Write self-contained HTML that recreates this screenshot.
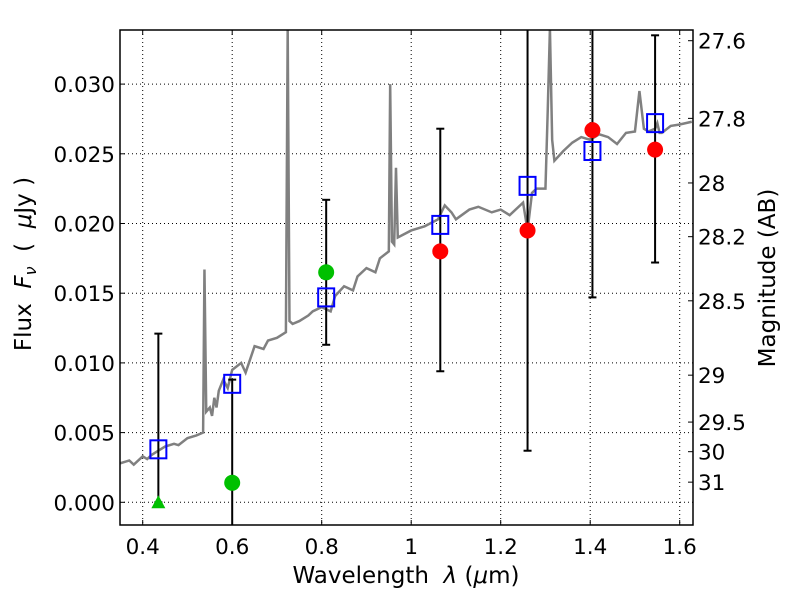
<!DOCTYPE html>
<html><head><meta charset="utf-8"><style>
body{margin:0;background:#fff;}
svg text{font-family:"DejaVu Sans","Liberation Sans",sans-serif;}
</style></head><body>
<svg id="c" width="800" height="600" xmlns="http://www.w3.org/2000/svg"></svg>
<script>
const xTicks=[0.4,0.6,0.8,1.0,1.2,1.4,1.6];
const xTickLabels=["0.4","0.6","0.8","1","1.2","1.4","1.6"];
const yTicks=[0,0.005,0.01,0.015,0.02,0.025,0.03];
const yTickLabels=["0.000","0.005","0.010","0.015","0.020","0.025","0.030"];
const magTicks=[27.6,27.8,28,28.2,28.5,29,29.5,30,31];
const magTickLabels=["27.6","27.8","28","28.2","28.5","29","29.5","30","31"];
const specWave=[0.35,0.37,0.38,0.40,0.41,0.42,0.43,0.45,0.47,0.48,0.50,0.52,0.535,0.538,0.542,0.55,0.555,0.56,0.565,0.57,0.58,0.59,0.60,0.62,0.63,0.65,0.67,0.68,0.70,0.72,0.724,0.728,0.735,0.75,0.77,0.78,0.80,0.82,0.83,0.85,0.87,0.88,0.90,0.92,0.93,0.95,0.953,0.957,0.962,0.966,0.97,1.0,1.03,1.06,1.075,1.09,1.1,1.13,1.15,1.18,1.2,1.22,1.25,1.26,1.27,1.28,1.3,1.305,1.31,1.315,1.32,1.34,1.36,1.38,1.40,1.42,1.44,1.46,1.48,1.50,1.51,1.52,1.53,1.545,1.55,1.555,1.56,1.58,1.60,1.627];
const specFlux=[0.0028,0.0030,0.0027,0.0033,0.0031,0.0034,0.0036,0.0040,0.0042,0.0041,0.0046,0.0048,0.0050,0.0167,0.0065,0.0068,0.0062,0.0075,0.0068,0.0080,0.0088,0.0082,0.0095,0.0100,0.0093,0.0112,0.0110,0.0116,0.0118,0.0122,0.034,0.0130,0.0128,0.0130,0.0134,0.0137,0.0140,0.0137,0.0148,0.0155,0.0152,0.0162,0.0168,0.0165,0.0175,0.0180,0.0300,0.0187,0.0185,0.0240,0.0190,0.0195,0.0198,0.0203,0.0213,0.0208,0.0203,0.0210,0.0212,0.0208,0.0210,0.0206,0.0215,0.0195,0.0222,0.0225,0.0225,0.028,0.034,0.0260,0.0245,0.0252,0.0258,0.0262,0.0260,0.0264,0.0262,0.0257,0.0265,0.0266,0.0295,0.0268,0.0266,0.0268,0.0272,0.0265,0.0265,0.0270,0.0271,0.0273];
const boxWave=[0.435,0.6,0.81,1.065,1.26,1.405,1.545];
const boxFlux=[0.0038,0.0085,0.0147,0.0199,0.0227,0.0252,0.0272];
const errWave=[0.435,0.6,0.81,1.065,1.26,1.405,1.545];
const errLow=[0.0,-0.003,0.0113,0.0094,0.0037,0.0147,0.0172];
const errHigh=[0.0121,0.0088,0.0217,0.0268,0.036,0.036,0.0335];
const greenWave=[0.6,0.81];
const greenFlux=[0.0014,0.0165];
const triWave=[0.435];
const triFlux=[0.0];
const redWave=[1.065,1.26,1.405,1.545];
const redFlux=[0.018,0.0195,0.0267,0.0253];

const L=120,R=693,T=30,B=525;
const xs=v=>142.7+(v-0.4)*447.5;
const ys=v=>502.3-v*13940;
const NS="http://www.w3.org/2000/svg";
const svg=document.getElementById('c');
function mk(t,a,p){const e=document.createElementNS(NS,t);for(const k in a)e.setAttribute(k,a[k]);(p||svg).appendChild(e);return e;}
const cp=mk('clipPath',{id:'clip'});mk('rect',{x:L,y:T,width:R-L,height:B-T},cp);
const grid=mk('g',{});


xTicks.forEach((v,i)=>{
 mk('line',{x1:xs(v),x2:xs(v),y1:T,y2:B,stroke:'#000','stroke-width':1,'stroke-dasharray':'1,3'},grid);
 mk('line',{x1:xs(v),x2:xs(v),y1:B,y2:B-5,stroke:'#000'});
 mk('line',{x1:xs(v),x2:xs(v),y1:T,y2:T+5,stroke:'#000'});
 const t=mk('text',{x:xs(v),y:B+29,'font-size':21.5,'text-anchor':'middle'});t.textContent=xTickLabels[i];
 
 
});
yTicks.forEach((v,i)=>{
 mk('line',{x1:L,x2:R,y1:ys(v),y2:ys(v),stroke:'#000','stroke-width':1,'stroke-dasharray':'1,3'},grid);
 mk('line',{x1:L,x2:L+5,y1:ys(v),y2:ys(v),stroke:'#000'});
 const t=mk('text',{x:L-5,y:ys(v)+8,'font-size':21.5,'text-anchor':'end'});t.textContent=yTickLabels[i];
 
 
});
magTicks.forEach((m,i)=>{
 const y=ys(Math.pow(10,(23.9-m)/2.5));
 mk('line',{x1:R,x2:R-5,y1:y,y2:y,stroke:'#000'});
 const t=mk('text',{x:R+5,y:y+8,'font-size':21.5});t.textContent=magTickLabels[i];
 
 
});
const g=mk('g',{'clip-path':'url(#clip)'});
const sp=mk('polyline',{points:specWave.map((w,i)=>xs(w)+','+ys(specFlux[i])).join(' '),fill:'none',stroke:'#808080','stroke-width':2.5},g);


errWave.forEach((w,i)=>{
 const e=mk('line',{x1:xs(w),x2:xs(w),y1:ys(errLow[i]),y2:ys(errHigh[i]),stroke:'#000','stroke-width':2},g);
 
 
 [errLow[i],errHigh[i]].forEach(v=>mk('line',{x1:xs(w)-4,x2:xs(w)+4,y1:ys(v),y2:ys(v),stroke:'#000','stroke-width':2},g));
});
triWave.forEach((w,i)=>{const x=xs(w),y=ys(triFlux[i]);
 const p=mk('polygon',{points:`${x},${y-7} ${x-7},${y+6} ${x+7},${y+6}`,fill:'#00c000'},g);
 
 });
greenWave.forEach((w,i)=>{const c=mk('circle',{cx:xs(w),cy:ys(greenFlux[i]),r:8,fill:'#00c000'},g);
 
 });
redWave.forEach((w,i)=>{const c=mk('circle',{cx:xs(w),cy:ys(redFlux[i]),r:8,fill:'#ff0000'},g);
 
 });
boxWave.forEach((w,i)=>{const r=mk('rect',{x:xs(w)-8,y:ys(boxFlux[i])-9,width:16,height:18,fill:'none',stroke:'#0000ff','stroke-width':2},g);
 
 });
const fr=mk('rect',{x:L,y:T,width:R-L,height:B-T,fill:'none',stroke:'#000','stroke-width':1.5});


const xl=mk('text',{x:406,y:583,'font-size':23,'text-anchor':'middle'});
xl.innerHTML='Wavelength&#160;&#160;<tspan font-style="italic">λ</tspan> (<tspan font-style="italic">μ</tspan>m)';


const yl=mk('text',{x:0,y:0,'font-size':23,'text-anchor':'middle',transform:'translate(31,264) rotate(-90)'});
yl.innerHTML='Flux&#160;&#160;<tspan font-style="italic">F</tspan><tspan font-style="italic" font-size="16" dy="5">ν</tspan><tspan dy="-5">&#160;&#160;(&#160;&#160;</tspan><tspan font-style="italic">μ</tspan>Jy )';


const rl=mk('text',{x:0,y:0,'font-size':23,'text-anchor':'middle',transform:'translate(775,278) rotate(-90)'});
rl.textContent='Magnitude (AB)';


</script>
</body></html>
